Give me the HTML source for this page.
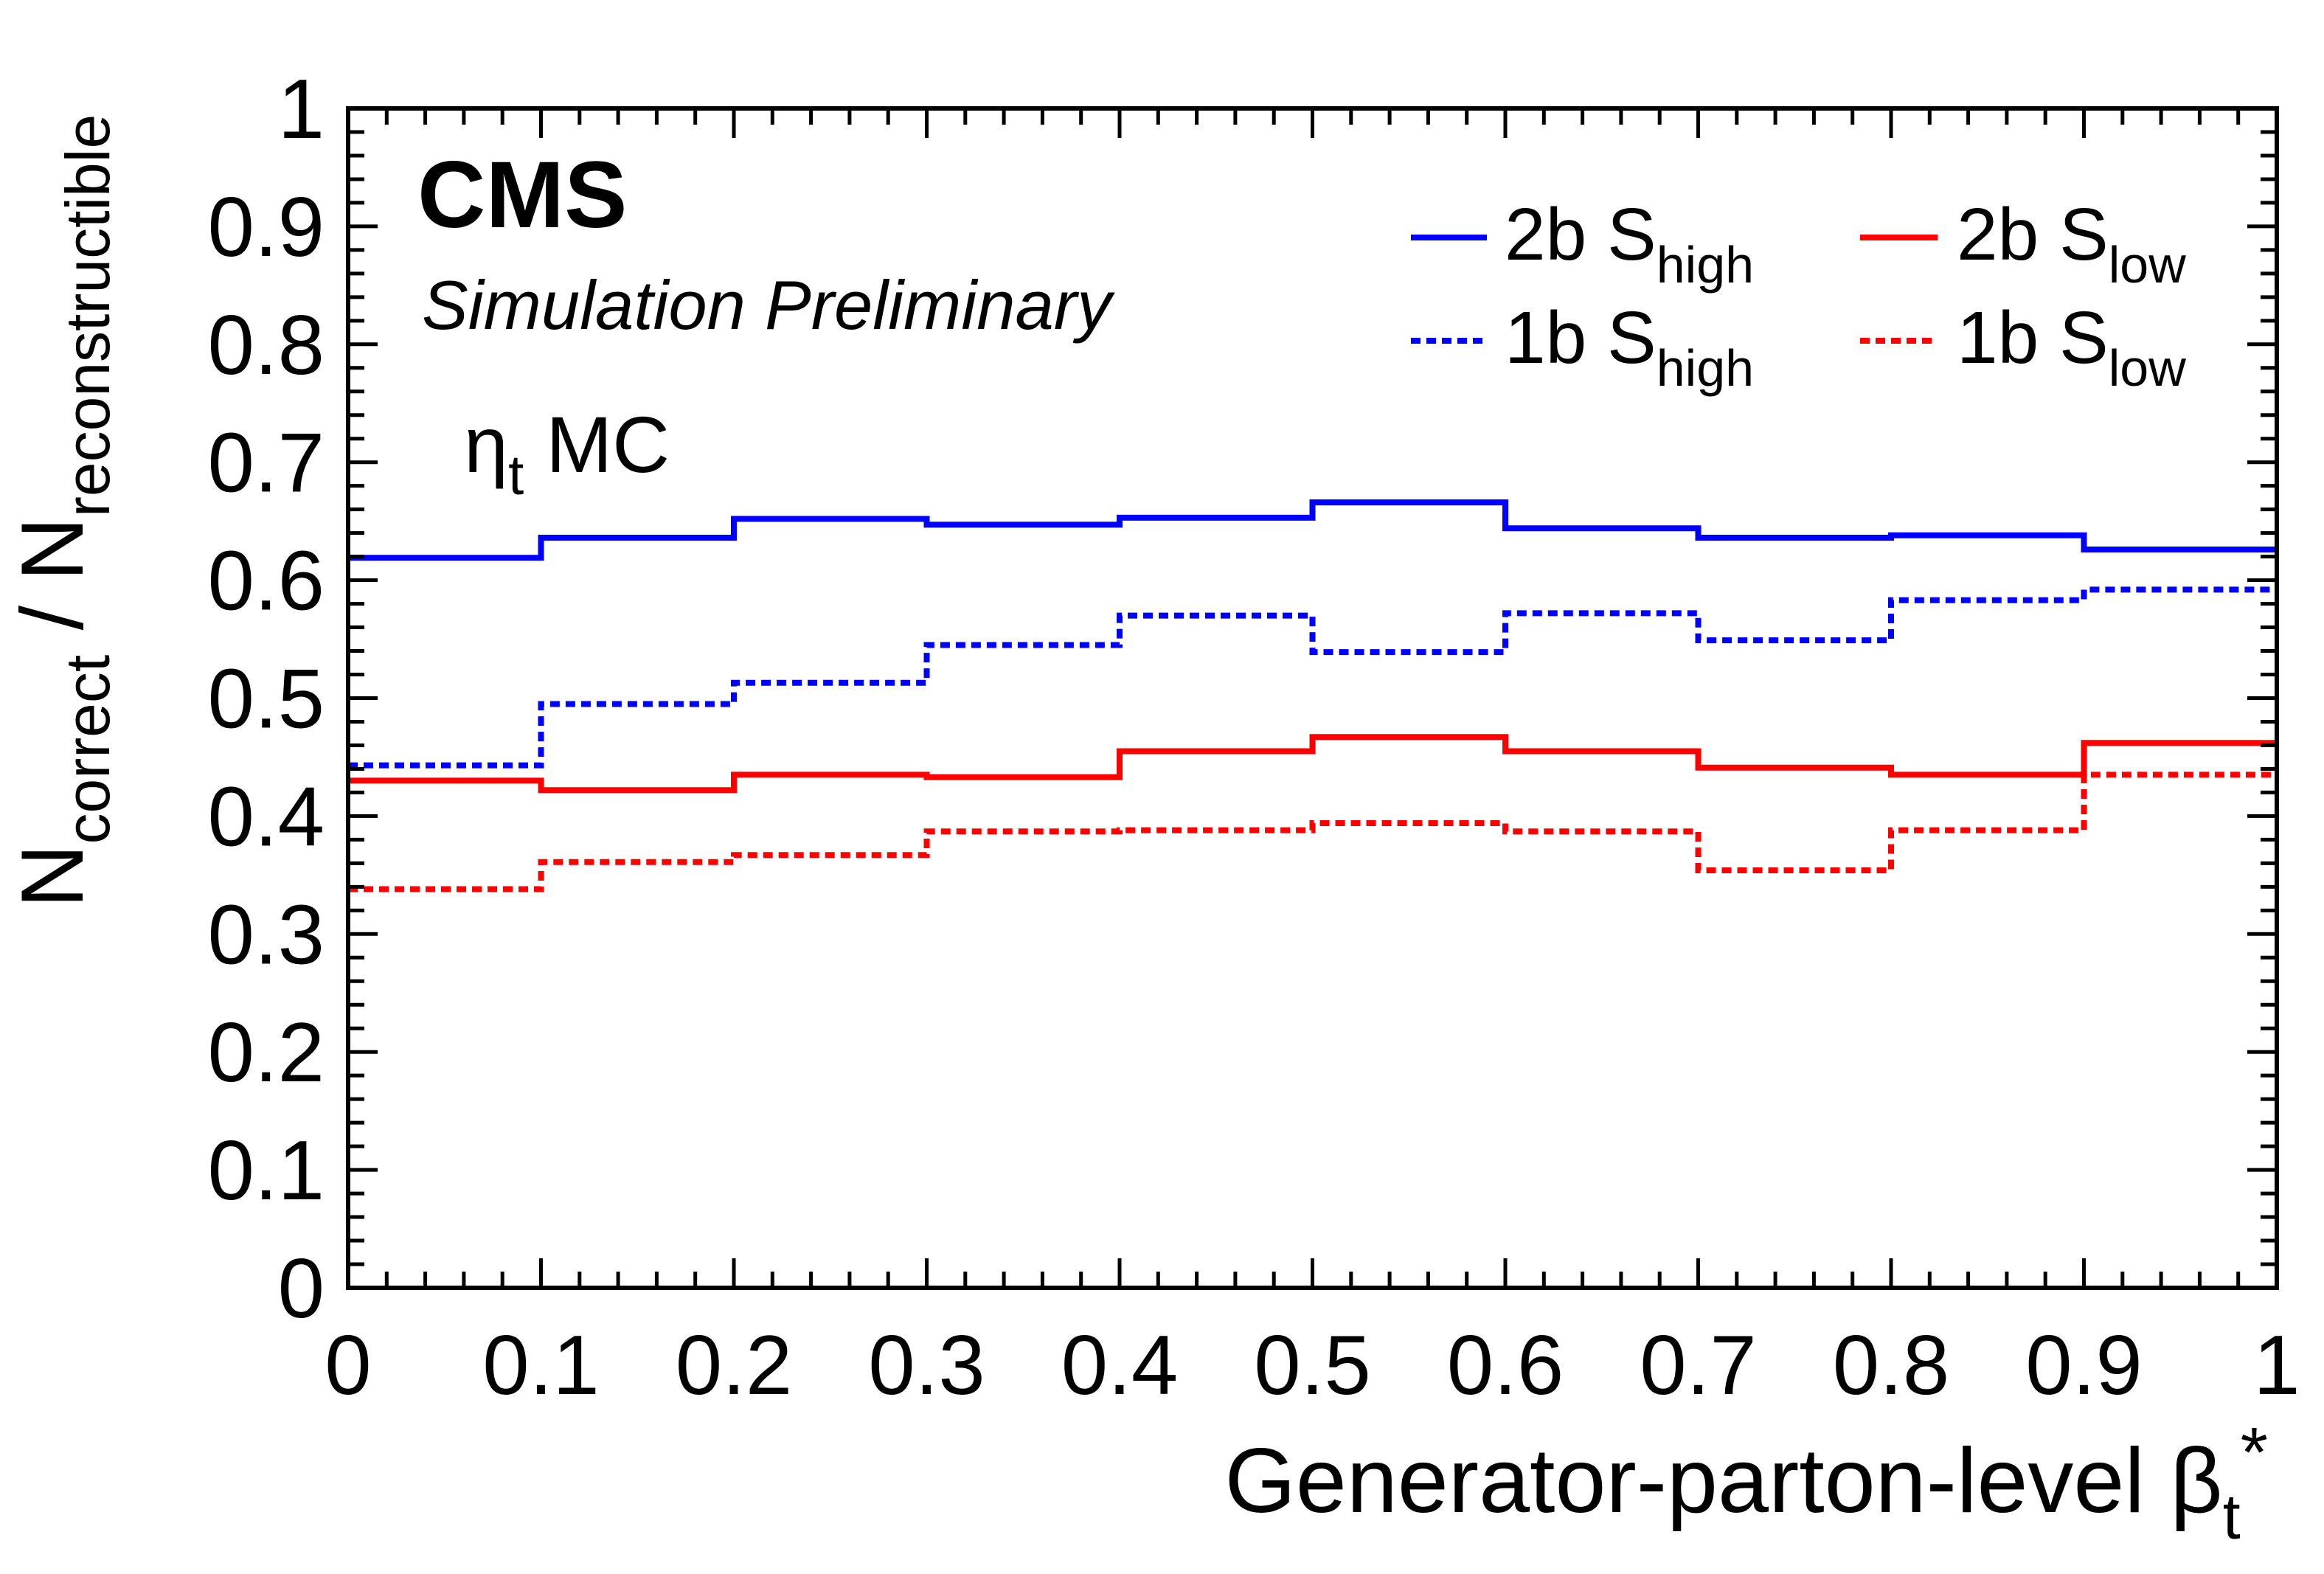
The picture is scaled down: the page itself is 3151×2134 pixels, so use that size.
<!DOCTYPE html>
<html><head><meta charset="utf-8"><style>
html,body{margin:0;padding:0;background:#fff}
svg{display:block}
text{font-family:"Liberation Sans",sans-serif;fill:#000}
</style></head><body>
<svg width="3151" height="2134" viewBox="0 0 3151 2134" xmlns="http://www.w3.org/2000/svg">
<rect width="3151" height="2134" fill="#fff"/>
<g id="series" fill="none" stroke-width="8"></g>
<g id="ticks" stroke="#000" stroke-width="5"></g>
<rect x="472" y="147" width="2615" height="1599" fill="none" stroke="#000" stroke-width="6"/>
<g id="labels" font-size="114"></g>
<text x="566" y="308" font-size="128" font-weight="bold">CMS</text>
<text x="572" y="446" font-size="94" font-style="italic">Simulation Preliminary</text>
<text x="629" y="640" font-size="108">η<tspan font-size="76" dy="30">t</tspan><tspan dy="-30"> MC</tspan></text>
<line x1="1913" y1="322" x2="2016" y2="322" stroke="#0000ff" stroke-width="8"/>
<text x="2040" y="352" font-size="100">2b S<tspan font-size="70" dy="31">high</tspan></text>
<line x1="1913" y1="462" x2="2016" y2="462" stroke="#0000ff" stroke-width="8" stroke-dasharray="13,8"/>
<text x="2040" y="492" font-size="100">1b S<tspan font-size="70" dy="31">high</tspan></text>
<line x1="2522" y1="322" x2="2627" y2="322" stroke="#ff0000" stroke-width="8"/>
<text x="2653" y="352" font-size="100">2b S<tspan font-size="70" dy="31">low</tspan></text>
<line x1="2522" y1="462" x2="2627" y2="462" stroke="#ff0000" stroke-width="8" stroke-dasharray="13,8"/>
<text x="2653" y="492" font-size="100">1b S<tspan font-size="70" dy="31">low</tspan></text>
<text transform="translate(112,693) rotate(-90)" text-anchor="middle" font-size="120">N<tspan font-size="84" dy="36">correct</tspan><tspan dy="-36"> / N</tspan><tspan font-size="84" dy="36">reconstructible</tspan></text>
<text x="3075" y="2050" text-anchor="end" font-size="124">Generator-parton-level β<tspan font-size="86" dy="36">t</tspan><tspan font-size="96" dy="-84">*</tspan></text>
<script>
var X0=472,X1=3087,Y0=1746,H=1599,W=X1-X0;
function xp(v){return X0+W*v}function yp(v){return Y0-H*v}
var ns="http://www.w3.org/2000/svg";
var data=[
["#0000ff","",[0.619,0.636,0.652,0.647,0.653,0.666,0.644,0.636,0.638,0.626]],
["#0000ff","13,8",[0.443,0.495,0.513,0.545,0.570,0.539,0.572,0.549,0.583,0.592]],
["#ff0000","",[0.430,0.422,0.435,0.433,0.455,0.467,0.455,0.441,0.435,0.462]],
["#ff0000","13,8",[0.338,0.361,0.367,0.387,0.388,0.394,0.387,0.354,0.388,0.435]]];
var g=document.getElementById("series");
data.forEach(function(s){var d="";s[2].forEach(function(v,i){var y=yp(v).toFixed(1);d+=(i==0?"M":"L")+xp(i/10).toFixed(1)+","+y+"L"+xp((i+1)/10).toFixed(1)+","+y});
var p=document.createElementNS(ns,"path");p.setAttribute("d",d);p.setAttribute("stroke",s[0]);if(s[1])p.setAttribute("stroke-dasharray",s[1]);g.appendChild(p)});
var t=document.getElementById("ticks"),d="";
for(var i=0;i<=50;i++){var L=(i%5==0)?40:22;var x=xp(i/50),y=yp(i/50);
d+="M"+x+","+Y0+"v"+(-L)+"M"+x+",147v"+L+"M"+X0+","+y+"h"+L+"M"+X1+","+y+"h"+(-L);}
var p=document.createElementNS(ns,"path");p.setAttribute("d",d);t.appendChild(p);
var lb=document.getElementById("labels");
for(var i=0;i<=10;i++){var s=i==0?"0":i==10?"1":"0."+i;
var a=document.createElementNS(ns,"text");a.setAttribute("x",xp(i/10));a.setAttribute("y",1890);a.setAttribute("text-anchor","middle");a.textContent=s;lb.appendChild(a);
var b=document.createElementNS(ns,"text");b.setAttribute("x",440);b.setAttribute("y",yp(i/10)+40);b.setAttribute("text-anchor","end");b.textContent=s;lb.appendChild(b);}
</script>
</svg>
</body></html>
